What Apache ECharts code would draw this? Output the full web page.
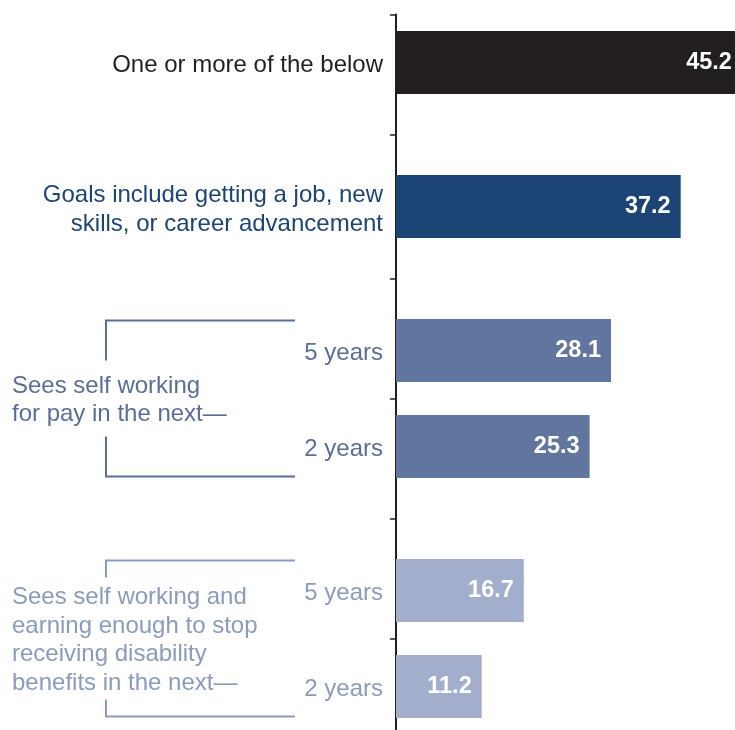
<!DOCTYPE html>
<html>
<head>
<meta charset="utf-8">
<script src="https://cdn.jsdelivr.net/npm/echarts@6/dist/echarts.min.js"></script>
<style>
  html, body { margin: 0; padding: 0; background: #ffffff; }
  #chart { width: 735px; height: 730px; }
</style>
</head>
<body>
<div id="chart"></div>
<script>
// Category labels, top to bottom
const categories = [
  'One or more of the below',
  'Goals include getting a job, new\nskills, or career advancement',
  '5 years',
  '2 years',
  '5 years',
  '2 years'
];
// Percentages shown on the bars
const values = [45.2, 37.2, 28.1, 25.3, 16.7, 11.2];
// Bracketed groups on the left and the bars they cover
const groupTitles = [
  'Sees self working\nfor pay in the next\u2014',
  'Sees self working and\nearning enough to stop\nreceiving disability\nbenefits in the next\u2014'
];
const groupMembers = [[2, 3], [4, 5]];

// ---- layout & styling ----
const FONT = "'Liberation Sans', Arial, Helvetica, sans-serif";
const barColors = ['#231f20', '#1c4575', '#61769e', '#61769e', '#a2aecb', '#a2aecb'];
const labelTones = ['k', 'n', 'm', 'm', 'l', 'l'];
const groupColors = ['#5b6e98', '#8b9bbd'];
const armLength = [40, 17];
const slotOf = [2, 8, 14, 18, 24, 28];     // axis slot for each bar
const tickSlots = [0, 5, 11, 16, 21, 26];  // separators between bars
const SLOT_COUNT = 30;
const SLOT_PX = 24;
const slotNames = Array.from({ length: SLOT_COUNT }, (_, i) => 's' + i);
const BAR_W = 63;
const X_MAX = 44.3; // the longest bar runs past the right edge of the page
const GRID_LEFT = 396, GRID_TOP = 14.5;
const AXIS_COLOR = '#231f20';

const chart = echarts.init(document.getElementById('chart'), null, { renderer: 'canvas' });

function axisLabel(value) {
  const idx = slotOf.indexOf(slotNames.indexOf(value));
  if (idx < 0) return '';
  const tone = labelTones[idx];
  return categories[idx].split('\n').map(line => '{' + tone + '|' + line + '}').join('\n');
}

const richBase = { fontFamily: FONT, fontSize: 24, lineHeight: 29, align: 'right' };

chart.setOption({
  animation: false,
  grid: { left: GRID_LEFT, top: GRID_TOP, right: 0, height: SLOT_PX * (SLOT_COUNT - 1) },
  xAxis: { type: 'value', min: 0, max: X_MAX, show: false },
  yAxis: {
    type: 'category',
    inverse: true,
    boundaryGap: false,
    data: slotNames,
    axisLine: { show: true, lineStyle: { color: AXIS_COLOR, width: 2 } },
    axisTick: {
      show: true,
      length: 6,
      interval: (i) => tickSlots.indexOf(i) >= 0,
      lineStyle: { color: AXIS_COLOR, width: 1.5 }
    },
    axisLabel: {
      interval: 0,
      margin: 13,
      padding: [6, 0, 0, 0],
      formatter: axisLabel,
      rich: {
        k: Object.assign({ color: '#231f20' }, richBase),
        n: Object.assign({ color: '#1c4575' }, richBase),
        m: Object.assign({ color: '#5b6e98' }, richBase),
        l: Object.assign({ color: '#8b9bbd' }, richBase)
      }
    },
    splitLine: { show: false }
  },
  series: [{
    type: 'bar',
    clip: false,
    barWidth: BAR_W,
    data: values.map((v, i) => ({
      value: [v, slotNames[slotOf[i]]],
      itemStyle: { color: barColors[i] }
    })),
    label: {
      show: true,
      position: 'insideRight',
      distance: 10,
      color: '#ffffff',
      fontFamily: FONT,
      fontWeight: 'bold',
      fontSize: 23.5,
      formatter: (p) => p.value[0].toFixed(1)
    }
  }]
});

// Brackets and group titles, placed from the axis positions of their bars
const graphics = [];
groupMembers.forEach((members, g) => {
  const yFirst = chart.convertToPixel({ yAxisIndex: 0 }, slotNames[slotOf[members[0]]]);
  const yLast = chart.convertToPixel({ yAxisIndex: 0 }, slotNames[slotOf[members[members.length - 1]]]);
  const top = yFirst - BAR_W / 2 + 1.5;
  const bottom = yLast + BAR_W / 2 - 1.5;
  const color = groupColors[g];
  const xl = 106, xr = 295;
  graphics.push({
    type: 'polyline',
    shape: { points: [[xr, top], [xl, top], [xl, top + armLength[g]]] },
    style: { stroke: color, lineWidth: 2, fill: null }
  });
  graphics.push({
    type: 'polyline',
    shape: { points: [[xl, bottom - armLength[g]], [xl, bottom], [xr, bottom]] },
    style: { stroke: color, lineWidth: 2, fill: null }
  });
  graphics.push({
    type: 'text',
    x: 12,
    y: (top + bottom) / 2 + 2,
    style: {
      text: groupTitles[g],
      fill: color,
      font: '24px ' + FONT,
      lineHeight: 28.5,
      textAlign: 'left',
      textVerticalAlign: 'middle'
    }
  });
});
// The value axis line continues down to the page's bottom edge
const axisEnd = GRID_TOP + SLOT_PX * (SLOT_COUNT - 1);
graphics.push({
  type: 'line',
  shape: { x1: GRID_LEFT, y1: axisEnd - 1, x2: GRID_LEFT, y2: 740 },
  style: { stroke: AXIS_COLOR, lineWidth: 2 },
  z: 0
});
chart.setOption({ graphic: graphics });
</script>
</body>
</html>
